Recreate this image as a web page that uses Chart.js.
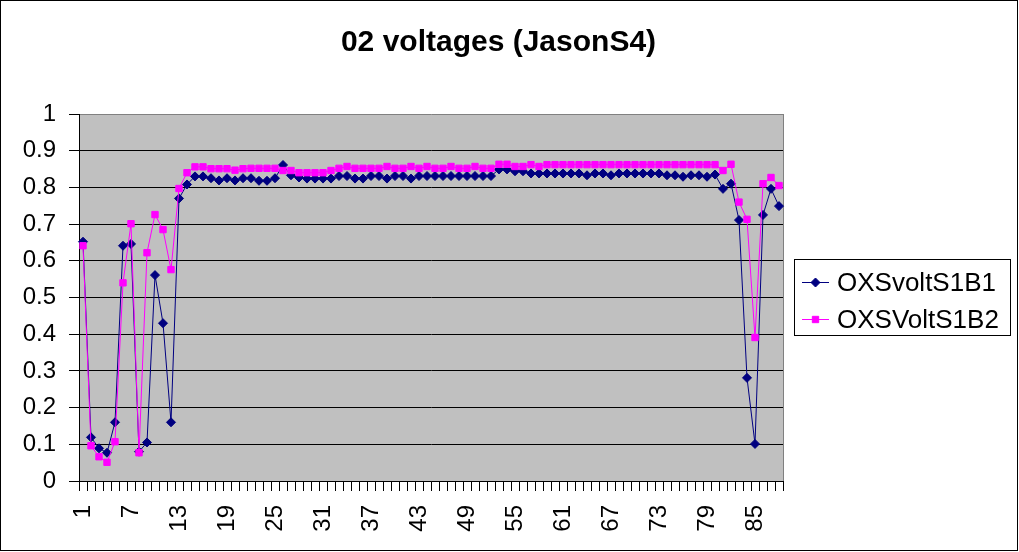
<!DOCTYPE html>
<html>
<head>
<meta charset="utf-8">
<title>02 voltages (JasonS4)</title>
<script src="https://cdn.jsdelivr.net/npm/chart.js@4"></script>
<style>
    html, body { margin: 0; padding: 0; background: #fff; }
    #wrap { width: 1019px; height: 552px; }
</style>
</head>
<body>
<div id="wrap"><canvas id="voltChart" width="1019" height="552"></canvas></div>
<script>
/* ---------------- Data ---------------- */
const categories = [
    1, 2, 3, 4, 5, 6, 7, 8, 9, 10, 11, 12, 13, 14, 15, 16, 17, 18, 19, 20, 21, 22,
    23, 24, 25, 26, 27, 28, 29, 30, 31, 32, 33, 34, 35, 36, 37, 38, 39, 40, 41, 42, 43, 44,
    45, 46, 47, 48, 49, 50, 51, 52, 53, 54, 55, 56, 57, 58, 59, 60, 61, 62, 63, 64, 65, 66,
    67, 68, 69, 70, 71, 72, 73, 74, 75, 76, 77, 78, 79, 80, 81, 82, 83, 84, 85, 86, 87, 88
];
const xTickLabels = ['1', '7', '13', '19', '25', '31', '37', '43', '49', '55', '61', '67', '73', '79', '85'];
const yTickLabels = ['0', '0.1', '0.2', '0.3', '0.4', '0.5', '0.6', '0.7', '0.8', '0.9', '1'];

const voltS1B1 = [
    0.652, 0.119, 0.089, 0.077, 0.160, 0.641, 0.646, 0.080, 0.105, 0.561, 0.430, 0.160,
    0.770, 0.808, 0.830, 0.830, 0.825, 0.819, 0.825, 0.819, 0.825, 0.825, 0.818, 0.818,
    0.825, 0.861, 0.833, 0.827, 0.824, 0.824, 0.824, 0.824, 0.831, 0.831, 0.824, 0.824,
    0.831, 0.831, 0.824, 0.831, 0.831, 0.824, 0.831, 0.831, 0.831, 0.831, 0.831, 0.831,
    0.831, 0.831, 0.831, 0.831, 0.849, 0.849, 0.844, 0.844, 0.838, 0.838, 0.838, 0.838,
    0.838, 0.838, 0.838, 0.833, 0.838, 0.838, 0.833, 0.838, 0.838, 0.838, 0.838, 0.838,
    0.838, 0.833, 0.833, 0.829, 0.833, 0.833, 0.829, 0.835, 0.796, 0.810, 0.711, 0.281,
    0.101, 0.725, 0.796, 0.749
];
const voltS1B2 = [
    0.641, 0.096, 0.066, 0.051, 0.107, 0.540, 0.701, 0.077, 0.622, 0.726, 0.685, 0.576,
    0.797, 0.840, 0.856, 0.856, 0.851, 0.851, 0.851, 0.847, 0.851, 0.852, 0.852, 0.852,
    0.852, 0.846, 0.846, 0.840, 0.840, 0.840, 0.840, 0.846, 0.852, 0.857, 0.852, 0.852,
    0.852, 0.852, 0.857, 0.852, 0.852, 0.857, 0.852, 0.857, 0.852, 0.852, 0.857, 0.852,
    0.852, 0.857, 0.852, 0.852, 0.863, 0.863, 0.857, 0.857, 0.862, 0.857, 0.862, 0.862,
    0.862, 0.862, 0.862, 0.862, 0.862, 0.862, 0.862, 0.862, 0.862, 0.862, 0.862, 0.862,
    0.862, 0.862, 0.862, 0.862, 0.862, 0.862, 0.862, 0.862, 0.846, 0.863, 0.760, 0.713,
    0.391, 0.810, 0.827, 0.805
];

const FONT = "Arial, 'Liberation Sans', sans-serif";

/* ---------------- Plugins ---------------- */
// grey plot area + grey right edge, black frame round the picture
const excelFrame = {
    id: 'excelFrame',
    beforeDraw(chart) {
        const { ctx, chartArea: a } = chart;
        ctx.save();
        ctx.fillStyle = '#fff';
        ctx.fillRect(0, 0, chart.width, chart.height);
        ctx.fillStyle = '#c0c0c0';
        ctx.fillRect(a.left, a.top, a.right - a.left, a.bottom - a.top);
        ctx.restore();
    },
    beforeDatasetsDraw(chart) {
        const { ctx, chartArea: a } = chart;
        ctx.save();
        ctx.strokeStyle = '#808080';
        ctx.lineWidth = 1;
        ctx.beginPath();
        ctx.moveTo(Math.round(a.right) + 0.5, a.top);
        ctx.lineTo(Math.round(a.right) + 0.5, a.bottom);
        ctx.stroke();
        ctx.restore();
    },
    afterDraw(chart) {
        const ctx = chart.ctx;
        ctx.save();
        ctx.strokeStyle = '#000';
        ctx.lineWidth = 1;
        ctx.strokeRect(0.5, 0.5, 1017, 550);
        ctx.restore();
    }
};

// boxed legend at the right, line + marker like the original
const boxLegend = {
    id: 'boxLegend',
    afterDraw(chart) {
        const ctx = chart.ctx;
        const box = { x: 794.5, y: 259.5, w: 216, h: 76 };
        ctx.save();
        ctx.fillStyle = '#fff';
        ctx.fillRect(box.x, box.y, box.w, box.h);
        ctx.strokeStyle = '#000';
        ctx.lineWidth = 1;
        ctx.strokeRect(box.x, box.y, box.w, box.h);
        chart.data.datasets.forEach((ds, i) => {
            const cy = 282.5 + i * 37;
            ctx.strokeStyle = ds.borderColor;
            ctx.fillStyle = ds.backgroundColor;
            ctx.lineWidth = 1;
            ctx.beginPath();
            ctx.moveTo(802, cy);
            ctx.lineTo(829, cy);
            ctx.stroke();
            Chart.helpers.drawPoint(ctx, {
                pointStyle: ds.pointStyle, radius: ds.pointRadius, borderWidth: 1, rotation: 0
            }, 815.5, cy);
            ctx.fillStyle = '#000';
            ctx.font = '26px ' + FONT;
            ctx.textAlign = 'left';
            ctx.textBaseline = 'middle';
            ctx.fillText(ds.label, 837, cy + 1);
        });
        ctx.restore();
    }
};

/* ---------------- Chart ---------------- */
new Chart(document.getElementById('voltChart'), {
    type: 'line',
    data: {
        labels: categories.map(String),
        datasets: [{
            label: 'OXSvoltS1B1',
            data: voltS1B1,
            borderColor: '#000080',
            backgroundColor: '#000080',
            borderWidth: 1,
            pointStyle: 'rectRot',
            pointRadius: 4.5,
            pointBorderWidth: 1,
            tension: 0,
            order: 1
        }, {
            label: 'OXSVoltS1B2',
            data: voltS1B2,
            borderColor: '#ff00ff',
            backgroundColor: '#ff00ff',
            borderWidth: 1,
            pointStyle: 'rect',
            pointRadius: 4.5,
            pointBorderWidth: 1,
            tension: 0,
            order: 0
        }]
    },
    options: {
        responsive: false,
        animation: false,
        devicePixelRatio: 1,
        layout: { padding: { left: 0, right: 22, top: 0, bottom: 0 } },
        plugins: {
            legend: { display: false },
            tooltip: { enabled: false },
            title: {
                display: true,
                text: '02 voltages (JasonS4)',
                color: '#000',
                font: { family: FONT, size: 30, weight: 'bold' },
                padding: { top: 25, bottom: 53 }
            }
        },
        scales: {
            x: {
                type: 'category',
                offset: true,
                grid: {
                    offset: true,
                    drawOnChartArea: false,
                    drawTicks: true,
                    tickLength: 10,
                    color: '#000',
                    tickColor: '#000'
                },
                border: { display: true, color: '#000', width: 1 },
                ticks: {
                    autoSkip: false,
                    minRotation: 90,
                    maxRotation: 90,
                    padding: 14,
                    color: '#000',
                    font: { family: FONT, size: 24 },
                    callback: function (v) {
                        const l = this.getLabelForValue(v);
                        return xTickLabels.includes(l) ? l : '';
                    }
                },
                afterFit: s => { s.height = 71; }
            },
            y: {
                min: 0,
                max: 1,
                grid: {
                    color: c => (c.tick && c.tick.value === 1 ? '#808080' : '#000'),
                    tickColor: '#000',
                    tickLength: 10,
                    drawTicks: true
                },
                border: { display: true, color: '#000', width: 1 },
                ticks: {
                    stepSize: 0.1,
                    padding: 13,
                    color: '#000',
                    font: { family: FONT, size: 24 },
                    callback: (v, i) => yTickLabels[i]
                },
                afterFit: s => { s.width = 79; }
            },
            yR: {
                position: 'right',
                display: true,
                grid: { display: false },
                border: { display: false },
                ticks: { display: false },
                afterFit: s => { s.width = 214; }
            }
        }
    },
    plugins: [excelFrame, boxLegend]
});
</script>
</body>
</html>
